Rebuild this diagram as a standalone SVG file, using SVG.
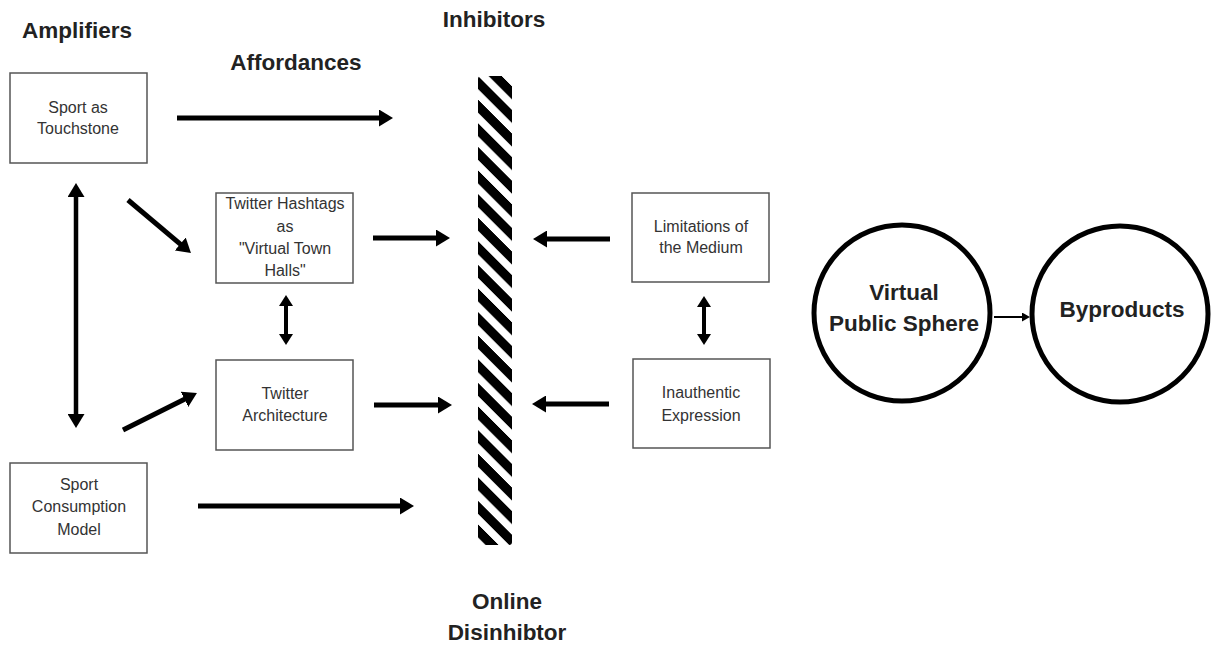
<svg xmlns="http://www.w3.org/2000/svg" width="1211" height="645" viewBox="0 0 1211 645">
<style>
.box{fill:#fff;stroke:#555;stroke-width:1.5}
.bt{font-family:"Liberation Sans",Arial,sans-serif;font-size:16px;fill:#333;text-anchor:middle}
.h{font-family:"Liberation Sans",Arial,sans-serif;font-size:22.5px;font-weight:bold;fill:#222;text-anchor:middle}
.a{stroke:#000;stroke-width:5;fill:none;marker-end:url(#ah)}
.d{stroke:#000;stroke-width:4;fill:none;marker-start:url(#hs);marker-end:url(#hs)}
</style>
<defs>
<marker id="ah" markerUnits="userSpaceOnUse" viewBox="0 0 14 17" refX="4" refY="8.5" markerWidth="14" markerHeight="17" orient="auto-start-reverse"><path d="M0,0 L14,8.5 L0,17 z" fill="#000"/></marker>
<marker id="hs" markerUnits="userSpaceOnUse" viewBox="0 0 11 14" refX="4" refY="7" markerWidth="11" markerHeight="14" orient="auto-start-reverse"><path d="M0,0 L11,7 L0,14 z" fill="#000"/></marker>
<marker id="sm" markerUnits="userSpaceOnUse" viewBox="0 0 8 9" refX="3" refY="4.5" markerWidth="8" markerHeight="9" orient="auto"><path d="M0,0 L8,4.5 L0,9 z" fill="#000"/></marker>
<pattern id="stripes" patternUnits="userSpaceOnUse" width="200" height="23.6" patternTransform="translate(478,76) skewY(45)"><rect x="0" y="0" width="200" height="13" fill="#000"/></pattern>
</defs>
<rect width="1211" height="645" fill="#fff"/>
<g id="labels">
<text class="h" x="77" y="38">Amplifiers</text>
<text class="h" x="296" y="70">Affordances</text>
<text class="h" x="494" y="27">Inhibitors</text>
<text class="h" x="507" y="609">Online</text>
<text class="h" x="507" y="640">Disinhibtor</text>
</g>
<g id="inhibitor-bar"><rect x="478" y="76" width="34" height="469" rx="3" fill="url(#stripes)"/></g>
<g id="sport-touchstone"><rect class="box" x="10" y="73" width="137" height="90"/><text class="bt" x="78" y="113">Sport as</text><text class="bt" x="78" y="134">Touchstone</text></g>
<g id="sport-consumption"><rect class="box" x="10" y="463" width="137" height="90"/><text class="bt" x="79" y="490">Sport</text><text class="bt" x="79" y="512">Consumption</text><text class="bt" x="79" y="535">Model</text></g>
<g id="twitter-hashtags"><rect class="box" x="216" y="193" width="137" height="90"/><text class="bt" x="285" y="209">Twitter Hashtags</text><text class="bt" x="285" y="232">as</text><text class="bt" x="285" y="254">"Virtual Town</text><text class="bt" x="285" y="276">Halls"</text></g>
<g id="twitter-architecture"><rect class="box" x="216" y="360" width="137" height="90"/><text class="bt" x="285" y="399">Twitter</text><text class="bt" x="285" y="421">Architecture</text></g>
<g id="limitations"><rect class="box" x="632" y="193" width="137" height="89"/><text class="bt" x="701" y="232">Limitations of</text><text class="bt" x="701" y="253">the Medium</text></g>
<g id="inauthentic"><rect class="box" x="633" y="359" width="137" height="89"/><text class="bt" x="701" y="398">Inauthentic</text><text class="bt" x="701" y="421">Expression</text></g>
<g id="virtual-public-sphere"><circle cx="902" cy="313" r="88" fill="#fff" stroke="#000" stroke-width="5"/><text class="h" x="904" y="300">Virtual</text><text class="h" x="904" y="331">Public Sphere</text></g>
<g id="byproducts"><circle cx="1120" cy="314" r="88" fill="#fff" stroke="#000" stroke-width="5"/><text class="h" x="1122" y="317">Byproducts</text></g>
<g id="connectors">
<line class="a" x1="177" y1="118" x2="383" y2="118"/>
<line class="a" x1="198" y1="506" x2="404" y2="506"/>
<line class="a" x1="128" y1="200" x2="183.3" y2="246.6"/>
<line class="a" x1="123" y1="430" x2="188" y2="397.5"/>
<line class="a" x1="373" y1="238" x2="440" y2="238"/>
<line class="a" x1="374" y1="405" x2="442" y2="405"/>
<line class="a" x1="610" y1="239" x2="543" y2="239"/>
<line class="a" x1="609" y1="404" x2="542" y2="404"/>
<line class="d" x1="286" y1="302" x2="286" y2="338"/>
<line class="d" x1="704" y1="303" x2="704" y2="338"/>
<line x1="76" y1="193" x2="76" y2="418" stroke="#000" stroke-width="4.5" marker-start="url(#ah)" marker-end="url(#ah)"/>
<line x1="994" y1="317" x2="1025" y2="317" stroke="#000" stroke-width="2" marker-end="url(#sm)"/>
</g>
</svg>
